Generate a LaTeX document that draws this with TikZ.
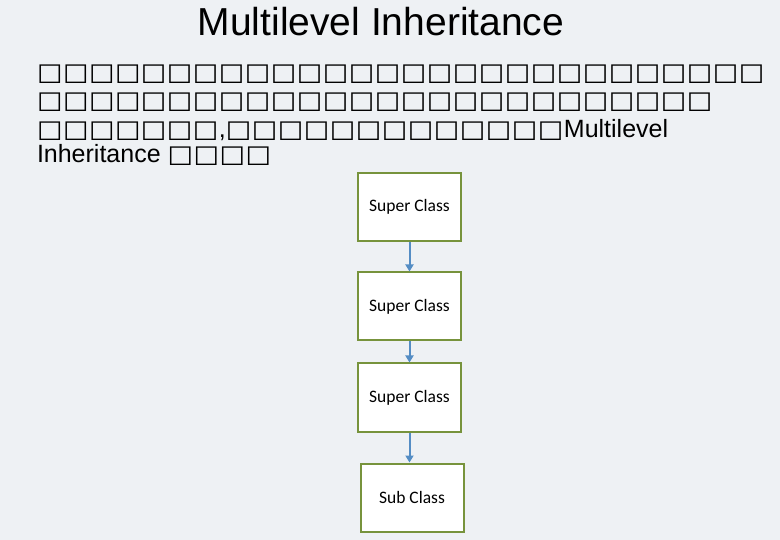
\documentclass[tikz,border=0pt]{standalone}
\usepackage{fontspec}
\setmainfont{Liberation Sans}
\newfontfamily\boxfont{Carlito}
\newfontfamily\tofufont{DejaVu Sans}
\usetikzlibrary{arrows.meta,positioning}

\definecolor{slidebg}{RGB}{238,241,244}
\definecolor{classgreen}{RGB}{119,147,60}
\definecolor{linkblue}{RGB}{84,141,196}

% one missing glyph, drawn as an empty box
\newcommand\tofu{\makebox[26pt][l]{\scalebox{1}[0.9]{\tofufont\bfseries\fontsize{27}{27}\selectfont □}}}
\newcommand\tofurow[1]{\foreach \k in {1,...,#1}{\tofu}}

\begin{document}
\begin{tikzpicture}[x=1pt,y=-1pt]
        \tikzstyle{every path}=[line width=2pt]
        \tikzstyle{title}=[font=\fontsize{39}{39}\selectfont,inner sep=0pt]
        \tikzstyle{textline}=[anchor=base west,inner sep=0pt,font=\fontsize{25}{25}\selectfont]
        \tikzstyle{class}=[draw=classgreen,fill=white,minimum width=103pt,minimum height=68pt,
                font=\boxfont\fontsize{17.5}{17.5}\selectfont]
        \tikzstyle{link}=[draw=linkblue,-{Triangle[width=8pt,length=7pt]}]

        \fill[slidebg] (0,0) rectangle (780,540);
        \useasboundingbox (0,0) rectangle (780,540);

        \node [title] (head) at (381,22) {Multilevel Inheritance};

        \node [textline] (line1) at (36,81) {\tofurow{28}};
        \node [textline] (line2) at (36,109) {\tofurow{26}};
        \node [textline] (line3) at (36,138) {\tofurow{7},\tofurow{13}Multilevel};
        \node [textline] (line4) at (36,163) {Inheritance \tofurow{4}};

        \node [class] (super1) at (409.5,207) {Super Class};
        \node [class] (super2) at (409.5,306.5) {Super Class};
        \node [class] (super3) at (409.5,397.5) {Super Class};
        \node [class] (sub) at (412,497.5) {Sub Class};

        \draw [link] (super1) -- (super2);
        \draw [link] (super2) -- (super3);
        \draw [link] (super3) -- (super3 |- sub.north);   % sub box sits a bit to the right
\end{tikzpicture}
\end{document}
